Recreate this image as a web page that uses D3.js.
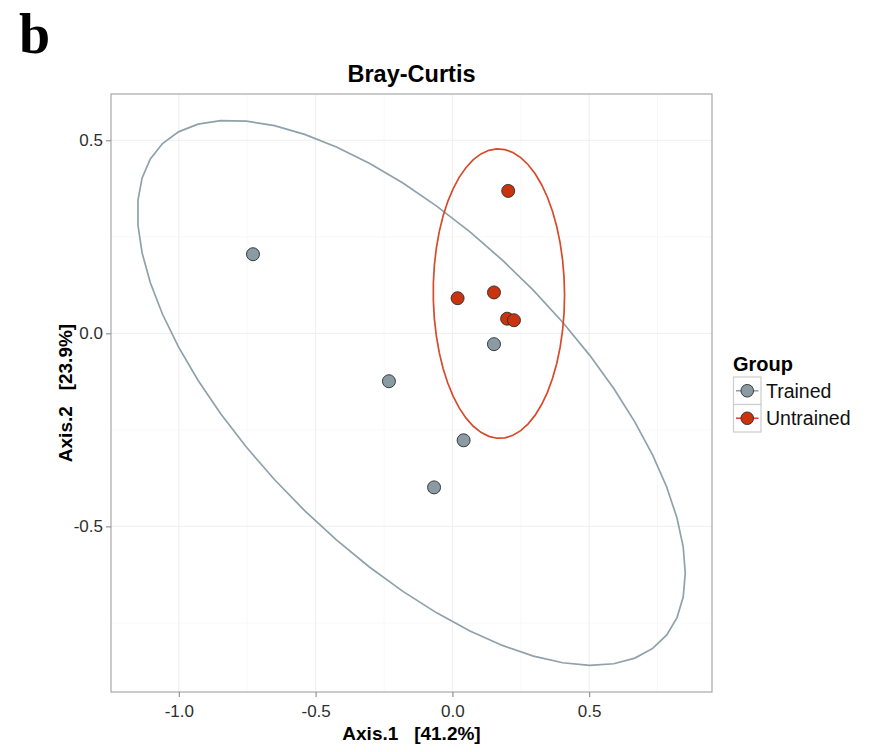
<!DOCTYPE html>
<html>
<head>
<meta charset="utf-8">
<script src="https://cdn.jsdelivr.net/npm/d3@7"></script>
<style>
  html, body { margin: 0; padding: 0; background: #fff; }
  svg { display: block; }
</style>
</head>
<body>
<svg id="chart" width="874" height="752"></svg>
<script>
// PCoA ordination (Bray-Curtis), two groups with 95% ellipses
const groups = ["Trained", "Untrained"];
const groupColors = ["#8a9ba4", "#c9340f"];
const ellipseColors = ["#8fa1a9", "#d84a2b"];

const trainedAxis1 = [-0.729, -0.232, -0.067, 0.041, 0.152];
const trainedAxis2 = [0.205, -0.124, -0.399, -0.277, -0.028];
const untrainedAxis1 = [0.204, 0.019, 0.152, 0.200, 0.225];
const untrainedAxis2 = [0.369, 0.091, 0.106, 0.038, 0.034];

// ellipse centre and shape (variance / covariance in axis units), per group
const ellipseCenterX = [-0.150, 0.170];
const ellipseCenterY = [-0.154, 0.103];
const ellipseVarX = [1.0026, 0.0576];
const ellipseVarY = [0.4984, 0.1406];
const ellipseCovXY = [-0.468, -0.001];

const xTicks = [-1.0, -0.5, 0.0, 0.5];
const yTicks = [-0.5, 0.0, 0.5];
const xMinor = [-0.75, -0.25, 0.25, 0.75];
const yMinor = [-0.75, -0.25, 0.25];

const svg = d3.select("#chart");
const panel = { left: 111, right: 712, top: 94, bottom: 692 };

const x = d3.scaleLinear().domain([-1.248, 0.949]).range([panel.left, panel.right]);
const y = d3.scaleLinear().domain([-0.929, 0.62]).range([panel.bottom, panel.top]);

// clip so ellipses stay inside the panel
svg.append("defs").append("clipPath").attr("id", "panelClip")
  .append("rect")
  .attr("x", panel.left).attr("y", panel.top)
  .attr("width", panel.right - panel.left).attr("height", panel.bottom - panel.top);

// grid lines
const grid = svg.append("g");
grid.selectAll(".xminor").data(xMinor).join("line")
  .attr("x1", d => x(d)).attr("x2", d => x(d))
  .attr("y1", panel.top).attr("y2", panel.bottom)
  .attr("stroke", "#f6f6f6").attr("stroke-width", 0.8);
grid.selectAll(".yminor").data(yMinor).join("line")
  .attr("y1", d => y(d)).attr("y2", d => y(d))
  .attr("x1", panel.left).attr("x2", panel.right)
  .attr("stroke", "#f6f6f6").attr("stroke-width", 0.8);
grid.selectAll(".xmajor").data(xTicks).join("line")
  .attr("x1", d => x(d)).attr("x2", d => x(d))
  .attr("y1", panel.top).attr("y2", panel.bottom)
  .attr("stroke", "#efefef").attr("stroke-width", 1);
grid.selectAll(".ymajor").data(yTicks).join("line")
  .attr("y1", d => y(d)).attr("y2", d => y(d))
  .attr("x1", panel.left).attr("x2", panel.right)
  .attr("stroke", "#efefef").attr("stroke-width", 1);

// ellipses, traced as 51-segment polygons
function ellipsePoints(i) {
  const sx = Math.sqrt(ellipseVarX[i]);
  const r12 = ellipseCovXY[i] / sx;
  const r22 = Math.sqrt(ellipseVarY[i] - r12 * r12);
  return d3.range(52).map(k => {
    const t = (k / 51) * 2 * Math.PI;
    return [ellipseCenterX[i] + sx * Math.cos(t),
            ellipseCenterY[i] + r12 * Math.cos(t) + r22 * Math.sin(t)];
  });
}
const line = d3.line().x(d => x(d[0])).y(d => y(d[1]));
const ell = svg.append("g").attr("clip-path", "url(#panelClip)");
groups.forEach((g, i) => {
  ell.append("path")
    .attr("d", line(ellipsePoints(i)))
    .attr("fill", "none")
    .attr("stroke", ellipseColors[i])
    .attr("stroke-width", 1.7);
});

// points
const series = [
  { group: 0, xs: trainedAxis1, ys: trainedAxis2 },
  { group: 1, xs: untrainedAxis1, ys: untrainedAxis2 }
];
const pts = svg.append("g");
series.forEach(s => {
  pts.selectAll(null).data(s.xs.map((v, j) => [v, s.ys[j]])).join("circle")
    .attr("cx", d => x(d[0])).attr("cy", d => y(d[1]))
    .attr("r", 6.5)
    .attr("fill", groupColors[s.group])
    .attr("stroke", "#2b2b2b").attr("stroke-width", 0.9);
});

// panel border
svg.append("rect")
  .attr("x", panel.left).attr("y", panel.top)
  .attr("width", panel.right - panel.left).attr("height", panel.bottom - panel.top)
  .attr("fill", "none").attr("stroke", "#a8a8a8").attr("stroke-width", 1.2);

// axes
const sans = "'Liberation Sans', Arial, sans-serif";
const tickFmt = d => d3.format(".1f")(d).replace("\u2212", "-");
const xAxis = svg.append("g").attr("transform", `translate(0,${panel.bottom})`)
  .call(d3.axisBottom(x).tickValues(xTicks).tickFormat(tickFmt).tickSizeOuter(0).tickSize(5).tickPadding(8));
const yAxis = svg.append("g").attr("transform", `translate(${panel.left},0)`)
  .call(d3.axisLeft(y).tickValues(yTicks).tickFormat(tickFmt).tickSizeOuter(0).tickSize(5).tickPadding(3));
[xAxis, yAxis].forEach(a => {
  a.select(".domain").remove();
  a.selectAll(".tick line").attr("stroke", "#8a8a8a").attr("stroke-width", 1.1);
  a.selectAll(".tick text")
    .attr("fill", "#2e2e2e")
    .style("font-family", sans)
    .style("font-size", "17px");
});

// titles
svg.append("text")
  .attr("x", (panel.left + panel.right) / 2).attr("y", 82)
  .attr("text-anchor", "middle")
  .style("font-family", sans).style("font-weight", "bold").style("font-size", "23.5px")
  .text("Bray-Curtis");

svg.append("text")
  .attr("x", (panel.left + panel.right) / 2).attr("y", 740)
  .attr("text-anchor", "middle")
  .style("font-family", sans).style("font-weight", "bold").style("font-size", "19px")
  .style("white-space", "pre")
  .text("Axis.1   [41.2%]");

svg.append("text")
  .attr("transform", `translate(72,${(panel.top + panel.bottom) / 2}) rotate(-90)`)
  .attr("text-anchor", "middle")
  .style("font-family", sans).style("font-weight", "bold").style("font-size", "19px")
  .style("white-space", "pre")
  .text("Axis.2   [23.9%]");

// panel letter
svg.append("text")
  .attr("x", 19).attr("y", 53)
  .style("font-family", "'Liberation Serif', 'Times New Roman', serif")
  .style("font-weight", "bold").style("font-size", "56px")
  .text("b");

// legend
const legend = svg.append("g").attr("transform", "translate(733,0)");
legend.append("text")
  .attr("x", 0).attr("y", 371)
  .style("font-family", sans).style("font-weight", "bold").style("font-size", "20px")
  .text("Group");
const keySize = 27.5;
groups.forEach((g, i) => {
  const top = 377 + i * keySize;
  const k = legend.append("g");
  k.append("rect")
    .attr("x", 0.5).attr("y", top)
    .attr("width", keySize).attr("height", keySize)
    .attr("fill", "#fff").attr("stroke", "#cccccc").attr("stroke-width", 1.2);
  k.append("line")
    .attr("x1", 3).attr("x2", keySize - 2)
    .attr("y1", top + keySize / 2).attr("y2", top + keySize / 2)
    .attr("stroke", ellipseColors[i]).attr("stroke-width", 1.6);
  k.append("circle")
    .attr("cx", 0.5 + keySize / 2).attr("cy", top + keySize / 2)
    .attr("r", 6.3)
    .attr("fill", groupColors[i]).attr("stroke", "#2b2b2b").attr("stroke-width", 0.9);
  k.append("text")
    .attr("x", 33).attr("y", top + keySize / 2 + 7)
    .style("font-family", sans).style("font-size", "19.5px")
    .attr("fill", "#111")
    .text(g);
});
</script>
</body>
</html>
